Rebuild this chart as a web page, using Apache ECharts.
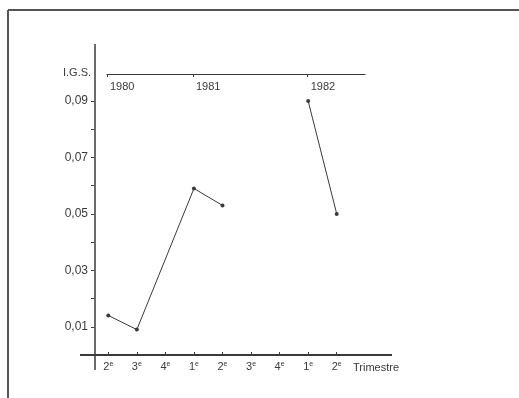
<!DOCTYPE html>
<html>
<head>
<meta charset="utf-8">
<script src="https://cdn.jsdelivr.net/npm/echarts@6/dist/echarts.min.js"></script>
<style>
html,body{margin:0;padding:0;background:#fff;}
#c{width:519px;height:398px;}
</style>
</head>
<body>
<div id="c"></div>
<script>
// Quarter categories (trimestres) 1980 Q2 .. 1982 Q2
const quarterNums = ['2','3','4','1','2','3','4','1','2'];
const quarterSuffix = ['e','e','e','e','e','e','e','e','e'];
// I.G.S. values (1980-81 segment, connected across missing 4th quarter)
const igs8081 = [0.014, 0.009, null, 0.059, 0.053, null, null, null, null];
// I.G.S. values 1982 segment
const igs82 = [null, null, null, null, null, null, null, 0.090, 0.050];
// Year scale at top (positions on the quarter grid)
const yearSlots = ['1980', '', '', '1981', '', '', '', '1982', '', ''];
const yTickLabels = {1: '0,01', 3: '0,03', 5: '0,05', 7: '0,07', 9: '0,09'};

const ink = '#3a3a3a';
const font = 'Liberation Sans';
const cats = quarterNums.map((n, i) => i + '|' + n + '|' + quarterSuffix[i]);

const chart = echarts.init(document.getElementById('c'), null, {renderer: 'canvas'});
chart.setOption({
  animation: false,
  backgroundColor: '#fff',
  grid: [
    {left: 94, right: 168, top: 101, bottom: 43},
    {left: 107, right: 154, top: 73, height: 1}
  ],
  xAxis: [
    {
      type: 'category', gridIndex: 0, data: cats, boundaryGap: true,
      axisLine: {show: false},
      axisTick: {show: true, alignWithLabel: true, inside: true, interval: 0, length: 3, lineStyle: {color: ink}},
      axisLabel: {
        interval: 0, margin: 6, color: ink, fontFamily: font, fontSize: 11,
        formatter: v => { const p = v.split('|'); return '{n|' + p[1] + '}{s|' + p[2] + '}'; },
        rich: {
          n: {fontSize: 11, fontFamily: font, color: ink},
          s: {fontSize: 7, fontFamily: font, color: ink, verticalAlign: 'top', padding: [0, 0, 5, 0]}
        }
      },
      name: 'Trimestre', nameLocation: 'end', nameGap: 2,
      nameTextStyle: {color: ink, fontFamily: font, fontSize: 11, verticalAlign: 'top', padding: [7, 0, 0, 0]},
      splitLine: {show: false}
    },
    {
      type: 'category', gridIndex: 1, data: yearSlots, boundaryGap: false, position: 'bottom',
      axisLine: {show: true, lineStyle: {color: ink, width: 1}},
      axisTick: {show: true, length: 3, inside: false, interval: (i, v) => v !== '', lineStyle: {color: ink}},
      axisLabel: {show: true, interval: (i, v) => v !== '', align: 'left', margin: 7, padding: [0, 0, 0, 3],
        color: ink, fontFamily: font, fontSize: 11},
      splitLine: {show: false}
    }
  ],
  yAxis: [
    {
      type: 'value', gridIndex: 0, min: 0, max: 0.09, interval: 0.01,
      axisLine: {show: false},
      axisTick: {show: true, length: 3, lineStyle: {color: ink}},
      axisLabel: {
        margin: 6, color: ink, fontFamily: font, fontSize: 12,
        formatter: v => { const k = Math.round(v * 100); return yTickLabels[k] || ''; }
      },
      splitLine: {show: false}
    },
    {type: 'value', gridIndex: 1, show: false}
  ],
  series: [
    {
      type: 'line', xAxisIndex: 0, yAxisIndex: 0, data: igs8081, connectNulls: true,
      symbol: 'circle', symbolSize: 4, showSymbol: true,
      lineStyle: {color: ink, width: 1}, itemStyle: {color: ink}
    },
    {
      type: 'line', xAxisIndex: 0, yAxisIndex: 0, data: igs82, connectNulls: false,
      symbol: 'circle', symbolSize: 4, showSymbol: true,
      lineStyle: {color: ink, width: 1}, itemStyle: {color: ink}
    }
  ],
  graphic: [
    // outer frame
    {type: 'line', shape: {x1: 8, y1: 10, x2: 519, y2: 10}, style: {stroke: '#555', lineWidth: 2}},
    {type: 'line', shape: {x1: 8, y1: 10, x2: 8, y2: 398}, style: {stroke: '#555', lineWidth: 2}},
    // extended axis lines
    {type: 'line', shape: {x1: 95, y1: 44, x2: 95, y2: 370}, style: {stroke: ink, lineWidth: 1.5}},
    {type: 'line', shape: {x1: 80, y1: 355, x2: 392, y2: 355}, style: {stroke: ink, lineWidth: 1.8}},
    // axis title
    {type: 'text', left: 63, top: 67, style: {text: 'I.G.S.', fill: ink, font: '11px "Liberation Sans"'}}
  ]
});
</script>
</body>
</html>
